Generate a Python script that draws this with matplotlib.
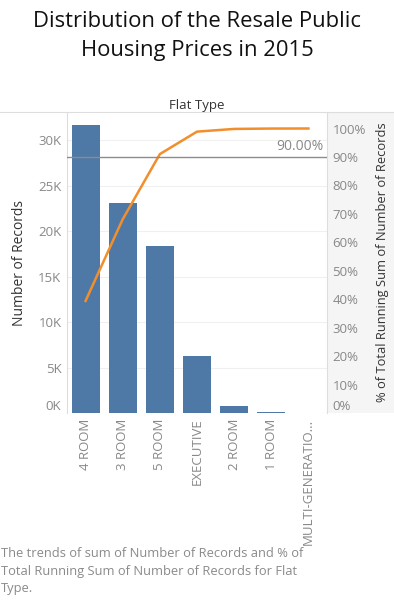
import matplotlib
matplotlib.use("Agg")
import matplotlib.pyplot as plt
import numpy as np
from matplotlib.ticker import FuncFormatter

plt.rcParams['font.family'] = ['Open Sans', 'DejaVu Sans']

categories = ["4 ROOM", "3 ROOM", "5 ROOM", "EXECUTIVE", "2 ROOM", "1 ROOM", "MULTI-GENERATIO..."]
records = [31700, 23100, 18400, 6300, 820, 100, 15]
cum_pct = [0.394, 0.681, 0.910, 0.989, 0.9985, 0.9998, 1.0]
left_ticks = [0, 5000, 10000, 15000, 20000, 25000, 30000]
right_ticks = [0, 0.1, 0.2, 0.3, 0.4, 0.5, 0.6, 0.7, 0.8, 0.9, 1.0]
ref_value = 0.90

W, H = 394, 600
fig = plt.figure(figsize=(W / 100, H / 100), dpi=100)

L, R, T, B = 67, 327, 112, 413

# right axis panel background
bg = fig.add_axes([R / W, 1 - B / H, (W - R) / W, (B - T) / H], zorder=-5)
bg.set_facecolor("#f5f5f5")
bg.set_xticks([]); bg.set_yticks([])
for s in bg.spines.values():
    s.set_visible(False)

ax = fig.add_axes([L / W, 1 - B / H, (R - L) / W, (B - T) / H])

bar_color = "#4e79a7"
line_color = "#f28e2b"
tick_color = "#888888"

x = np.arange(len(categories))
ax.bar(x, records, width=0.75, color=bar_color, zorder=2)
ax.set_xlim(-0.5, len(categories) - 0.5)
ax.set_ylim(0, 33100)
ax.set_yticks(left_ticks)
ax.yaxis.set_major_formatter(FuncFormatter(lambda v, p: f"{int(v/1000)}K"))
ax.grid(axis="y", color="#f0f0f0", linewidth=0.8, zorder=0)
ax.set_axisbelow(True)
ax.set_xticks(x)
ax.set_xticklabels(categories, rotation=90, color=tick_color, fontsize=9.4)
ax.tick_params(axis="both", length=0, colors=tick_color, labelsize=9.5)
ax.tick_params(axis="x", pad=4)
ax.tick_params(axis="y", pad=4)
for s in ["top", "right", "bottom"]:
    ax.spines[s].set_visible(False)
ax.spines["left"].set_color("#dddddd")
ax.spines["left"].set_linewidth(0.8)
ax.set_ylabel("Number of Records", fontsize=10, color="#333333", labelpad=8)

ax2 = ax.twinx()
ax2.plot(x[:len(cum_pct)], cum_pct, color=line_color, linewidth=1.8, zorder=3)
ax2.set_ylim(0, 1.058)
ax2.set_yticks(right_ticks)
ax2.yaxis.set_major_formatter(FuncFormatter(lambda v, p: f"{int(round(v*100))}%"))
ax2.tick_params(axis="y", length=0, colors=tick_color, labelsize=9.5, pad=4)
for s in ["top", "left", "bottom"]:
    ax2.spines[s].set_visible(False)
ax2.spines["right"].set_color("#dddddd")
ax2.spines["right"].set_linewidth(0.8)
ax2.set_ylabel("% of Total Running Sum of Number of Records", fontsize=9.3,
               color="#333333", labelpad=7)

ax2.axhline(ref_value, color="#8c8c8c", linewidth=1.0, zorder=4)
ax2.text(len(categories) - 0.6, ref_value + 0.012, f"{ref_value*100:.2f}%",
         ha="right", va="bottom", color=tick_color, fontsize=10)

fig.canvas.draw()
for lab in ax.get_yticklabels():
    if lab.get_text() == "0K":
        lab.set_va("bottom")
for lab in ax2.get_yticklabels():
    if lab.get_text() == "0%":
        lab.set_va("bottom")

# header line and "Flat Type"
fig.add_artist(plt.Line2D([0, 1], [1 - T / H, 1 - T / H], transform=fig.transFigure,
                          color="#dddddd", linewidth=0.8))
fig.text(197 / W, 1 - 105 / H, "Flat Type", ha="center", va="center",
         fontsize=9.5, color="#333333")

fig.text(197 / W, 1 - 36 / H, "Distribution of the Resale Public\nHousing Prices in 2015",
         ha="center", va="center", fontsize=15.8, color="#111111", linespacing=1.45)

fig.text(1 / W, 1 - 571 / H,
         "The trends of sum of Number of Records and % of\nTotal Running Sum of Number of Records for Flat\nType.",
         ha="left", va="center", fontsize=9.3, color="#8a8a8a", linespacing=1.45)

fig.savefig("out.png", dpi=100)
